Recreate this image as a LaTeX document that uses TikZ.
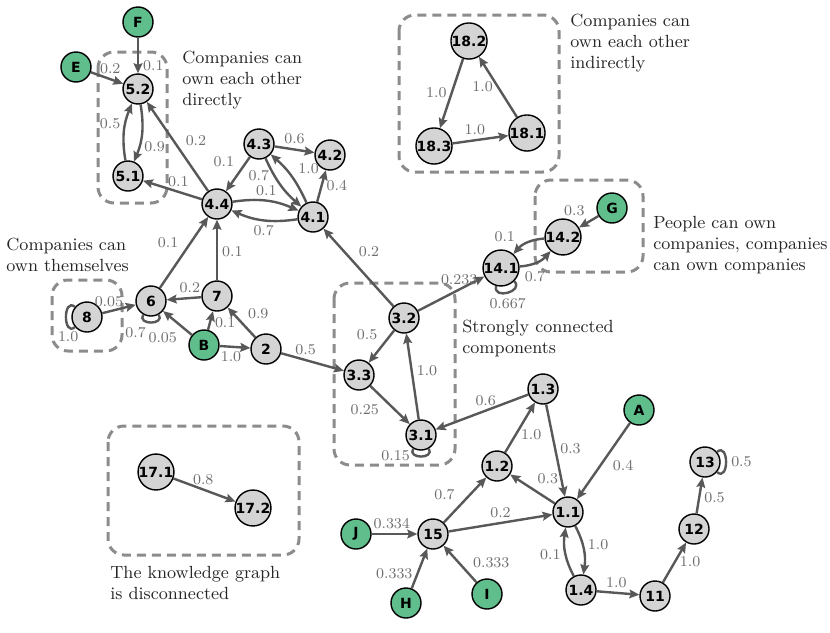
\documentclass[tikz,border=0pt]{standalone}
\usepackage{fontspec}
\usepackage{tikz}
\usetikzlibrary{arrows.meta}
\newfontfamily\nodefont{DejaVu Sans}
\definecolor{compfill}{RGB}{212,212,212}
\definecolor{personfill}{RGB}{95,190,140}
\definecolor{edgegray}{RGB}{88,88,88}
\definecolor{wtgray}{RGB}{110,110,110}
\definecolor{boxgray}{RGB}{140,140,140}
\tikzset{
  comp/.style={circle, draw=black, line width=0.7pt, fill=compfill,
    minimum size=15pt, inner sep=0pt,
    font=\nodefont\bfseries\fontsize{7}{8}\selectfont},
  person/.style={comp, fill=personfill},
  arr/.style={-{Stealth[length=5pt,width=4.4pt,inset=0.8pt]}, line width=1.2pt, draw=edgegray},
  selfloop/.style={line width=1.2pt, draw=edgegray, looseness=2, min distance=4pt},
  wt/.style={font=\fontsize{7.5}{9}\selectfont, text=wtgray, inner sep=2pt},
  groupbox/.style={draw=boxgray, line width=1.5pt, dash pattern=on 4.5pt off 3pt, rounded corners=8pt},
  note/.style={font=\fontsize{8.8}{10.4}\selectfont, text=black!85, align=left,
    anchor=north west, inner sep=0pt},
}

\begin{document}
\begin{tikzpicture}[x=0.5pt, y=-0.5pt]
  \useasboundingbox (0,0) rectangle (830,632);

  \draw[groupbox] (98,52) rectangle (167,203);
  \draw[groupbox] (52,280) rectangle (122,351);
  \draw[groupbox] (399,15) rectangle (559,172);
  \draw[groupbox] (535,180) rectangle (643,272);
  \draw[groupbox] (334,283) rectangle (455,465);
  \draw[groupbox] (108,426) rectangle (299,555);

  \node[note] (t-direct) at (182,51) {Companies can\\own each other\\directly};
  \node[note] (t-indirect) at (570,14) {Companies can\\own each other\\indirectly};
  \node[note] (t-self) at (6,238) {Companies can\\own themselves};
  \node[note] (t-people) at (653,216) {People can own\\companies, companies\\can own companies};
  \node[note] (t-scc) at (462,320) {Strongly connected\\components};
  \node[note] (t-disc) at (110,566) {The knowledge graph\\is disconnected};

  \node[person] (pF) at (138,22) {F};
  \node[person] (pE) at (76,67) {E};
  \node[comp] (c5-2) at (138,89) {5.2};
  \node[comp] (c5-1) at (128,176) {5.1};
  \node[comp] (c4-3) at (259,144) {4.3};
  \node[comp] (c4-2) at (330,155) {4.2};
  \node[comp] (c4-4) at (217,204) {4.4};
  \node[comp] (c4-1) at (313,217) {4.1};
  \node[comp] (c7) at (217,296) {7};
  \node[comp] (c6) at (151,301) {6};
  \node[comp] (c8) at (87,317) {8};
  \node[person] (pB) at (204,345) {B};
  \node[comp] (c2) at (266,349) {2};
  \node[comp] (c3-2) at (404,318) {3.2};
  \node[comp] (c3-3) at (359,375) {3.3};
  \node[comp] (c3-1) at (421,435) {3.1};
  \node[comp] (c18-2) at (469,41) {18.2};
  \node[comp] (c18-3) at (434,146) {18.3};
  \node[comp] (c18-1) at (527,133) {18.1};
  \node[person] (pG) at (612,208) {G};
  \node[comp] (c14-2) at (563,237) {14.2};
  \node[comp] (c14-1) at (501,268) {14.1};
  \node[comp] (c1-3) at (543,389) {1.3};
  \node[person] (pA) at (639,410) {A};
  \node[comp] (c1-2) at (497,466) {1.2};
  \node[comp] (c1-1) at (568,512) {1.1};
  \node[comp] (c15) at (433,534) {15};
  \node[person] (pJ) at (356,534) {J};
  \node[person] (pH) at (406,603) {H};
  \node[person] (pI) at (487,594) {I};
  \node[comp] (c1-4) at (581,590) {1.4};
  \node[comp] (c11) at (655,596) {11};
  \node[comp] (c12) at (694,529) {12};
  \node[comp] (c13) at (705,462) {13};
  \node[comp] (c17-1) at (156,472) {17.1};
  \node[comp] (c17-2) at (253,508) {17.2};

  \draw[arr] (pF) -- node[wt, pos=0.78, right] {0.1} (c5-2);
  \draw[arr] (pE) -- node[wt, pos=0.6, above] {0.2} (c5-2);
  \draw[arr] (c5-1) to[bend left=16] node[wt, pos=0.65, left] {0.5} (c5-2);
  \draw[arr] (c5-2) to[bend left=16] node[wt, pos=0.75, right] {0.9} (c5-1);
  \draw[arr] (c4-4) -- node[wt, pos=0.45, above right] {0.2} (c5-2);
  \draw[arr] (c4-4) -- node[wt, pos=0.4, above] {0.1} (c5-1);
  \draw[arr] (c4-3) -- node[wt, pos=0.45, above left] {0.1} (c4-4);
  \draw[arr] (c4-3) -- node[wt, pos=0.5, above] {0.6} (c4-2);
  \draw[arr] (c4-3) to[bend right=12] node[wt, pos=0.3, left] {0.7} (c4-1);
  \draw[arr] (c4-1) to[bend right=12] node[wt, pos=0.45, above right] {1.0} (c4-3);
  \draw[arr] (c4-4) to[bend left=16] node[wt, pos=0.5, above] {0.1} (c4-1);
  \draw[arr] (c4-1) to[bend left=16] node[wt, pos=0.5, below] {0.7} (c4-4);
  \draw[arr] (c4-1) -- node[wt, pos=0.5, right] {0.4} (c4-2);
  \draw[arr] (c3-2) -- node[wt, pos=0.57, above right] {0.2} (c4-1);
  \draw[arr] (c6) -- node[wt, pos=0.49, above left] {0.1} (c4-4);
  \draw[arr] (c7) -- node[wt, pos=0.48, right] {0.1} (c4-4);
  \draw[arr] (c7) -- node[wt, pos=0.33, above] {0.2} (c6);
  \draw[selfloop] (c6) to[out=240, in=300] node[wt, pos=0.5, below left] {0.7} (c6);
  \draw[arr] (c8) -- node[wt, pos=0.2, above] {0.05} (c6);
  \draw[selfloop] (c8) to[out=140, in=220] node[wt, pos=0.75, below] {1.0} (c8);
  \draw[arr] (pB) -- node[wt, pos=0.34, below left] {0.05} (c6);
  \draw[arr] (pB) -- node[wt, pos=0.36, right] {0.1} (c7);
  \draw[arr] (pB) -- node[wt, pos=0.37, below] {1.0} (c2);
  \draw[arr] (c2) -- node[wt, pos=0.45, above right] {0.9} (c7);
  \draw[arr] (c2) -- node[wt, pos=0.39, above] {0.5} (c3-3);
  \draw[arr] (c3-2) -- node[wt, pos=0.46, above left] {0.5} (c3-3);
  \draw[arr] (c3-3) -- node[wt, pos=0.35, below left] {0.25} (c3-1);
  \draw[arr] (c3-1) -- node[wt, pos=0.57, right] {1.0} (c3-2);
  \draw[selfloop] (c3-1) to[out=240, in=300] node[wt, pos=0.3, left] {0.15} (c3-1);
  \draw[arr] (c3-2) -- node[wt, pos=0.62, above] {0.233} (c14-1);
  \draw[selfloop] (c14-1) to[out=255, in=315] node[wt, pos=0.5, below] {0.667} (c14-1);
  \draw[arr] (c14-1) to[bend right=22] node[wt, pos=0, below right] {0.7} (c14-2);
  \draw[arr] (c14-2) to[bend right=22] node[wt, pos=0.75, above left] {0.1} (c14-1);
  \draw[arr] (pG) -- node[wt, pos=0.45, above left] {0.3} (c14-2);
  \draw[arr] (c18-2) -- node[wt, pos=0.49, left] {1.0} (c18-3);
  \draw[arr] (c18-1) -- node[wt, pos=0.5, left] {1.0} (c18-2);
  \draw[arr] (c18-3) -- node[wt, pos=0.4, above] {1.0} (c18-1);
  \draw[arr] (c1-3) -- node[wt, pos=0.46, above] {0.6} (c3-1);
  \draw[arr] (c1-2) -- node[wt, pos=0.36, right] {1.0} (c1-3);
  \draw[arr] (c1-3) -- node[wt, pos=0.48, right] {0.3} (c1-1);
  \draw[arr] (c1-1) -- node[wt, pos=0.5, above right] {0.3} (c1-2);
  \draw[arr] (pA) -- node[wt, pos=0.42, below right] {0.4} (c1-1);
  \draw[arr] (c15) -- node[wt, pos=0.38, above left] {0.7} (c1-2);
  \draw[arr] (c15) -- node[wt, pos=0.5, above] {0.2} (c1-1);
  \draw[arr] (pJ) -- node[wt, pos=0.44, above] {0.334} (c15);
  \draw[arr] (pH) -- node[wt, pos=0.38, left] {0.333} (c15);
  \draw[arr] (pI) -- node[wt, pos=0.26, above right] {0.333} (c15);
  \draw[arr] (c1-1) to[bend left=18] node[wt, pos=0.4, right] {1.0} (c1-4);
  \draw[arr] (c1-4) to[bend left=18] node[wt, pos=0.45, left] {0.1} (c1-1);
  \draw[arr] (c1-4) -- node[wt, pos=0.46, above] {1.0} (c11);
  \draw[arr] (c11) -- node[wt, pos=0.51, right] {1.0} (c12);
  \draw[arr] (c12) -- node[wt, pos=0.43, right] {0.5} (c13);
  \draw[selfloop] (c13) to[out=40, in=320] node[wt, pos=0.5, right] {0.5} (c13);
  \draw[arr] (c17-1) -- node[wt, pos=0.48, above] {0.8} (c17-2);
\end{tikzpicture}
\end{document}
